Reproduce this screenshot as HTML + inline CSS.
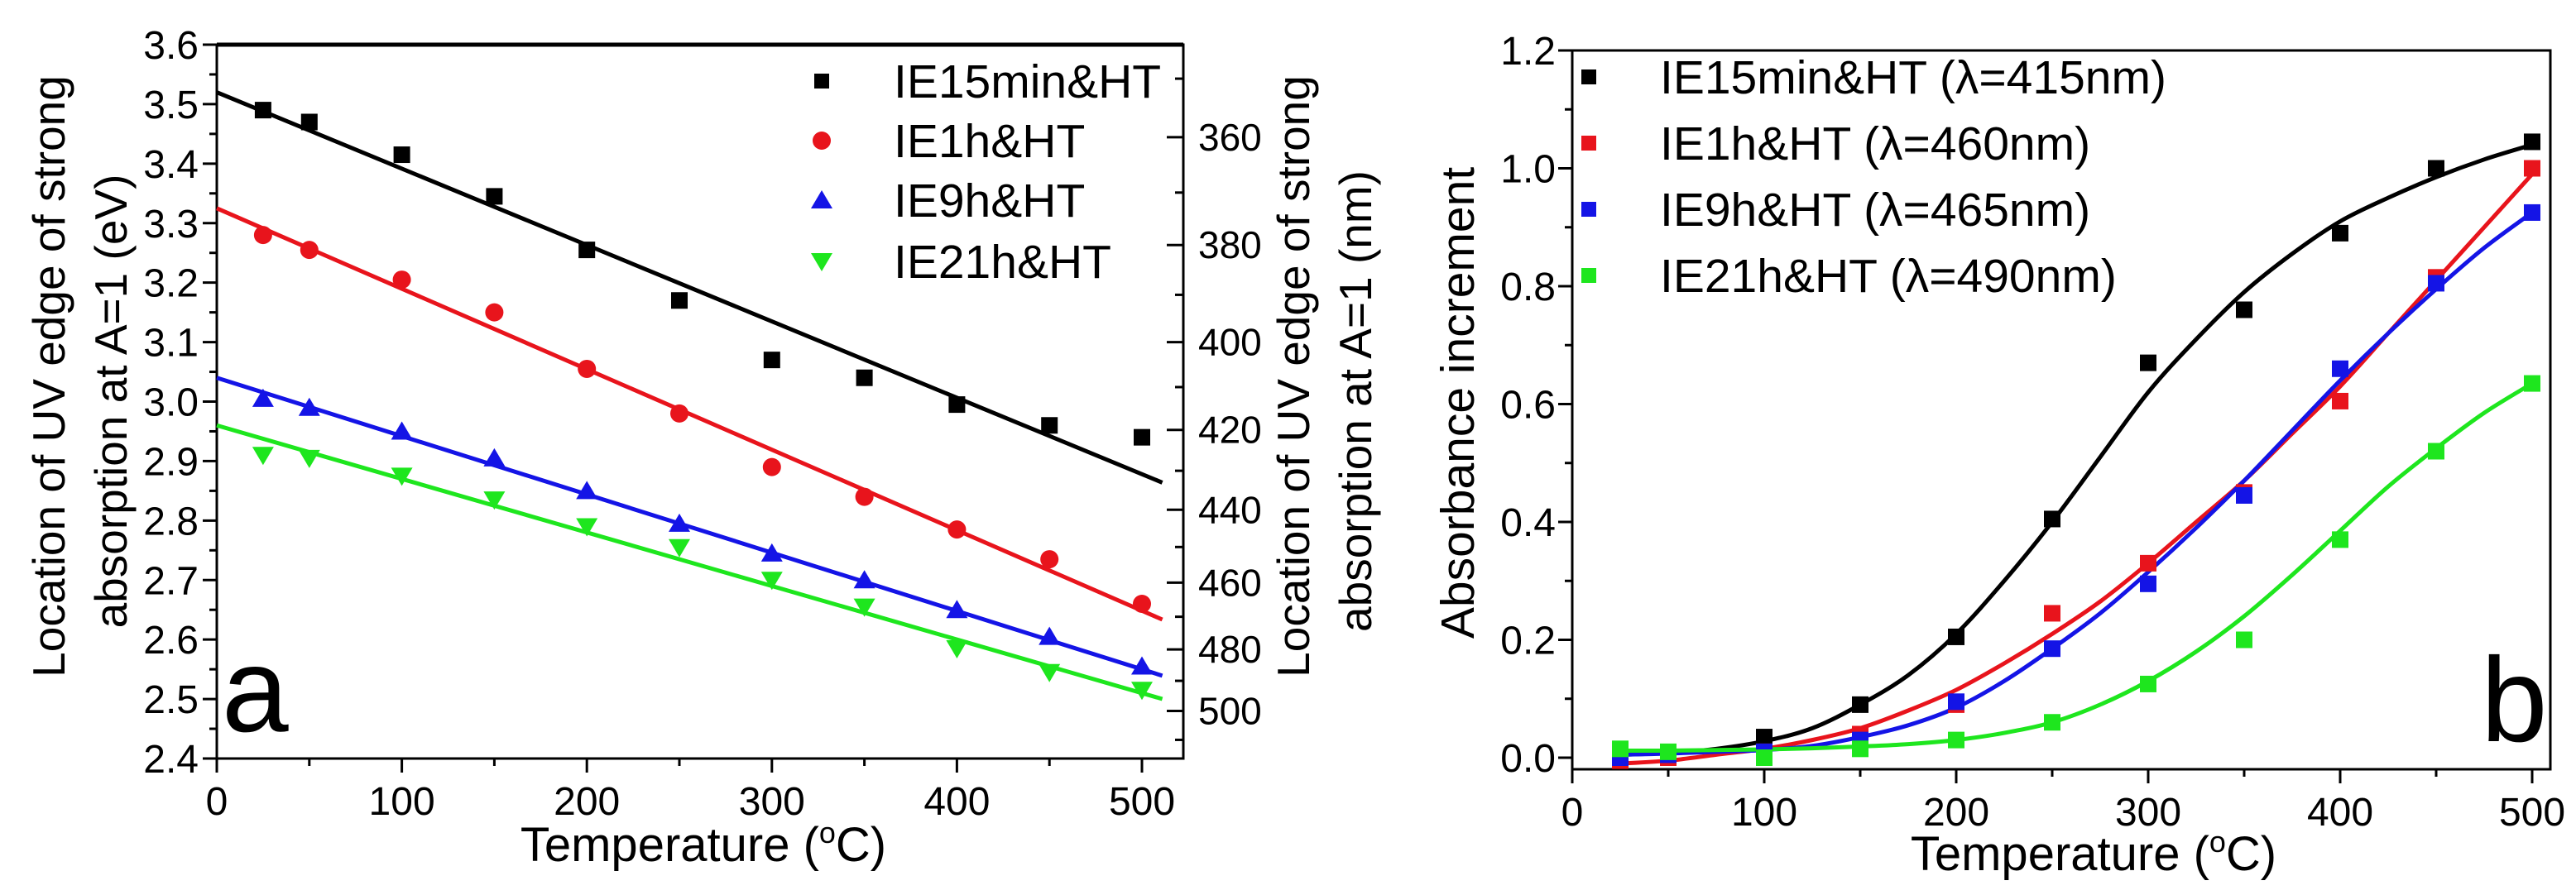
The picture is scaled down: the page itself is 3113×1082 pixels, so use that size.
<!DOCTYPE html>
<html><head><meta charset="utf-8"><style>
html,body{margin:0;padding:0;background:#fff}
svg{display:block}
text{font-family:"Liberation Sans",Arial,sans-serif;fill:#000}
</style></head><body>
<svg id="fig" width="3113" height="1082" viewBox="0 0 3113 1082" xmlns="http://www.w3.org/2000/svg"></svg>
<script>
// ---------- Panel a data ----------
const tempsA = [25,50,100,150,200,250,300,350,400,450,500];
const seriesNamesA = ["IE15min&HT","IE1h&HT","IE9h&HT","IE21h&HT"];
const evBlack = [3.49,3.47,3.415,3.345,3.255,3.17,3.07,3.04,2.995,2.96,2.94];
const evRed   = [3.28,3.255,3.205,3.15,3.055,2.98,2.89,2.84,2.785,2.735,2.66];
const evBlue  = [3.005,2.99,2.95,2.905,2.85,2.795,2.745,2.70,2.65,2.605,2.555];
const evGreen = [2.91,2.905,2.875,2.835,2.79,2.755,2.70,2.655,2.585,2.545,2.515];
const fitInterceptA = [3.52,3.325,3.04,2.96];
const fitSlopeA = [-0.001284,-0.001353,-0.00098,-0.0009];
const yTicksA = [2.4,2.5,2.6,2.7,2.8,2.9,3.0,3.1,3.2,3.3,3.4,3.5,3.6];
const xTicksA = [0,100,200,300,400,500];
const nmTicks = [360,380,400,420,440,460,480,500];
// ---------- Panel b data ----------
const tempsB = [25,50,100,150,200,250,300,350,400,450,500];
const seriesNamesB = ["IE15min&HT (λ=415nm)","IE1h&HT (λ=460nm)","IE9h&HT (λ=465nm)","IE21h&HT (λ=490nm)"];
const absBlack = [0.0,0.0,0.035,0.09,0.205,0.405,0.67,0.76,0.89,1.0,1.045];
const absRed   = [-0.005,0.0,0.01,0.04,0.09,0.245,0.33,0.45,0.605,0.815,1.0];
const absBlue  = [0.0,0.005,0.01,0.03,0.095,0.185,0.295,0.445,0.66,0.805,0.925];
const absGreen = [0.015,0.01,0.0,0.015,0.03,0.06,0.125,0.2,0.37,0.52,0.635];
const fitTempsB = [25,50,75,100,125,150,175,200,225,250,275,300,325,350,375,400,425,450,475,500];
const fitBlack = [0.005,0.008,0.015,0.028,0.05,0.09,0.14,0.21,0.30,0.40,0.51,0.62,0.71,0.79,0.855,0.91,0.95,0.985,1.015,1.04];
const fitRed   = [-0.01,-0.005,0.005,0.015,0.03,0.05,0.08,0.115,0.16,0.21,0.265,0.33,0.40,0.47,0.55,0.63,0.72,0.81,0.90,0.99];
const fitBlue  = [0.005,0.007,0.01,0.013,0.02,0.035,0.055,0.085,0.13,0.185,0.245,0.315,0.39,0.47,0.555,0.64,0.72,0.795,0.865,0.925];
const fitGreen = [0.012,0.012,0.013,0.014,0.016,0.019,0.023,0.03,0.042,0.06,0.09,0.13,0.18,0.24,0.31,0.385,0.46,0.525,0.585,0.635];
const yTicksB = [0.0,0.2,0.4,0.6,0.8,1.0,1.2];
const xTicksB = [0,100,200,300,400,500];

const NS="http://www.w3.org/2000/svg";
const svg=document.getElementById('fig');
function el(tag,attrs,parent){const e=document.createElementNS(NS,tag);for(const k in attrs)e.setAttribute(k,attrs[k]);(parent||svg).appendChild(e);return e;}
function txt(s,attrs,parent){const e=el('text',attrs,parent);e.textContent=s;return e;}
function tempTitle(x,y,parent){
  const e=el('text',{x:x,y:y,'font-size':58,'text-anchor':'middle'},parent);
  const a=document.createElementNS(NS,'tspan');a.textContent='Temperature (';e.appendChild(a);
  const b=document.createElementNS(NS,'tspan');b.setAttribute('dy','-22');b.setAttribute('font-size','36');b.textContent='o';e.appendChild(b);
  const c=document.createElementNS(NS,'tspan');c.setAttribute('dy','22');c.textContent='C)';e.appendChild(c);
  return e;
}
const colors=["#000000","#e8141c","#1414e6","#1ee61e"];

// ===== Panel a =====
const A={L:262,R:1430,T:54,B:917,y0:2.4,y1:3.6};
const xa=v=>A.L+v*2.236;
const ya=v=>A.B-(v-A.y0)/(A.y1-A.y0)*(A.B-A.T);
const ga=el('g',{});  
let f=el('rect',{x:A.L,y:A.T,width:A.R-A.L,height:A.B-A.T,fill:'none',stroke:'#000','stroke-width':3},ga);
 
el('line',{x1:A.L,y1:A.T,x2:A.R,y2:A.T,stroke:'#000','stroke-width':5},ga);
yTicksA.forEach((v,i)=>{
  el('line',{x1:A.L-17,y1:ya(v),x2:A.L,y2:ya(v),stroke:'#000','stroke-width':3},ga);
  if(i<yTicksA.length-1) el('line',{x1:A.L-9,y1:ya(v+0.05),x2:A.L,y2:ya(v+0.05),stroke:'#000','stroke-width':3},ga);
  const t=txt(v.toFixed(1),{x:A.L-22,y:ya(v)+17,'font-size':48,'text-anchor':'end'},ga);
   
});
xTicksA.forEach((v,i)=>{
  el('line',{x1:xa(v),y1:A.B,x2:xa(v),y2:A.B+17,stroke:'#000','stroke-width':3},ga);
  if(xa(v+50)<A.R) el('line',{x1:xa(v+50),y1:A.B,x2:xa(v+50),y2:A.B+9,stroke:'#000','stroke-width':3},ga);
  const t=txt(String(v),{x:xa(v),y:985,'font-size':48,'text-anchor':'middle'},ga);
   
});
nmTicks.forEach((n,i)=>{
  const y=ya(1240/n);
  el('line',{x1:A.R-20,y1:y,x2:A.R,y2:y,stroke:'#000','stroke-width':3},ga);
  if(i<nmTicks.length-1) el('line',{x1:A.R-10,y1:ya(1240/(n+10)),x2:A.R,y2:ya(1240/(n+10)),stroke:'#000','stroke-width':3},ga);
  const t=txt(String(n),{x:A.R+18,y:y+16,'font-size':46},ga);
   
});
el('line',{x1:A.R-10,y1:ya(1240/350),x2:A.R,y2:ya(1240/350),stroke:'#000','stroke-width':3},ga);
el('line',{x1:A.R-10,y1:ya(1240/510),x2:A.R,y2:ya(1240/510),stroke:'#000','stroke-width':3},ga);
let t=txt('Location of UV edge of strong',{x:0,y:0,'font-size':55,'text-anchor':'middle',transform:'translate(78,455) rotate(-90)'},ga);
 
t=txt('absorption at A=1 (eV)',{x:0,y:0,'font-size':55,'text-anchor':'middle',transform:'translate(153,485) rotate(-90)'},ga);
 
t=txt('Location of UV edge of strong',{x:0,y:0,'font-size':55,'text-anchor':'middle',transform:'translate(1582,455) rotate(-90)'},ga);
 
t=txt('absorption at A=1 (nm)',{x:0,y:0,'font-size':55,'text-anchor':'middle',transform:'translate(1657,485) rotate(-90)'},ga);
 
t=tempTitle(850,1041,ga);
 
t=txt('a',{x:268,y:884,'font-size':145},ga);
 

function marker(g,shape,cx,cy,c,s){
  s=s||1;
  if(shape==='sq') return el('rect',{x:cx-10*s,y:cy-10*s,width:20*s,height:20*s,fill:c},g);
  if(shape==='ci') return el('circle',{cx:cx,cy:cy,r:11*s,fill:c},g);
  if(shape==='tu') return el('polygon',{points:`${cx},${cy-12*s} ${cx+13*s},${cy+10*s} ${cx-13*s},${cy+10*s}`,fill:c},g);
  return el('polygon',{points:`${cx},${cy+12*s} ${cx+13*s},${cy-10*s} ${cx-13*s},${cy-10*s}`,fill:c},g);
}
const shapesA=['sq','ci','tu','td'];
[evBlack,evRed,evBlue,evGreen].forEach((arr,si)=>{
  const xEnd=511;
  const ln=el('line',{x1:xa(0),y1:ya(fitInterceptA[si]),x2:xa(xEnd),y2:ya(fitInterceptA[si]+fitSlopeA[si]*xEnd),stroke:colors[si],'stroke-width':5},ga);
   
  arr.forEach((v,i)=>{
    const m=marker(ga,shapesA[si],xa(tempsA[i]),ya(v),colors[si]);
     
  });
  const ly=[98,170,242,316][si];
  const lm=marker(ga,shapesA[si],993,ly,colors[si],si===0?0.9:1);
   
  const lt=txt(seriesNamesA[si],{x:1080,y:ly+20,'font-size':57},ga);
   
});

// ===== Panel b =====
const B={L:1900,R:3082,T:61,B:930};
const xb=v=>1900+v*2.32;
const yb=v=>916-v*(916-61)/1.2;
const gb=el('g',{});  
f=el('rect',{x:B.L,y:B.T,width:B.R-B.L,height:B.B-B.T,fill:'none',stroke:'#000','stroke-width':3},gb);
 
yTicksB.forEach((v,i)=>{
  el('line',{x1:B.L-17,y1:yb(v),x2:B.L,y2:yb(v),stroke:'#000','stroke-width':3},gb);
  if(i<yTicksB.length-1) el('line',{x1:B.L-9,y1:yb(v+0.1),x2:B.L,y2:yb(v+0.1),stroke:'#000','stroke-width':3},gb);
  const t=txt(v.toFixed(1),{x:B.L-20,y:yb(v)+17,'font-size':48,'text-anchor':'end'},gb);
   
});
xTicksB.forEach(v=>{
  el('line',{x1:xb(v),y1:B.B,x2:xb(v),y2:B.B+17,stroke:'#000','stroke-width':3},gb);
  if(xb(v+50)<B.R) el('line',{x1:xb(v+50),y1:B.B,x2:xb(v+50),y2:B.B+9,stroke:'#000','stroke-width':3},gb);
  const t=txt(String(v),{x:xb(v),y:998,'font-size':48,'text-anchor':'middle'},gb);
   
});
t=txt('Absorbance increment',{x:0,y:0,'font-size':57,'text-anchor':'middle',transform:'translate(1781,487) rotate(-90)'},gb);
 
t=tempTitle(2530,1052,gb);
 
t=txt('b',{x:2998,y:896,'font-size':145},gb);
 

function smoothPath(xs,ys){
  const p=xs.map((x,i)=>[xb(x),yb(ys[i])]);
  let d=`M${p[0][0]},${p[0][1]}`;
  for(let i=0;i<p.length-1;i++){
    const p0=p[i-1]||p[i],p1=p[i],p2=p[i+1],p3=p[i+2]||p[i+1];
    d+=` C${p1[0]+(p2[0]-p0[0])/6},${p1[1]+(p2[1]-p0[1])/6} ${p2[0]-(p3[0]-p1[0])/6},${p2[1]-(p3[1]-p1[1])/6} ${p2[0]},${p2[1]}`;
  }
  return d;
}
const fitsB=[fitBlack,fitRed,fitBlue,fitGreen];
fitsB.forEach((arr,si)=>{
  const pth=el('path',{d:smoothPath(fitTempsB,arr),fill:'none',stroke:colors[si],'stroke-width':5},gb);
   
});
[absBlack,absRed,absBlue,absGreen].forEach((arr,si)=>{
  arr.forEach((v,i)=>{
    const m=marker(gb,'sq',xb(tempsB[i]),yb(v),colors[si]);
     
  });
  const ly=[93,173,253,333][si];
  const lm=marker(gb,'sq',1920,ly,colors[si],0.9);
   
  const lt=txt(seriesNamesB[si],{x:2006,y:ly+20,'font-size':57},gb);
   
});
</script>
</body></html>
